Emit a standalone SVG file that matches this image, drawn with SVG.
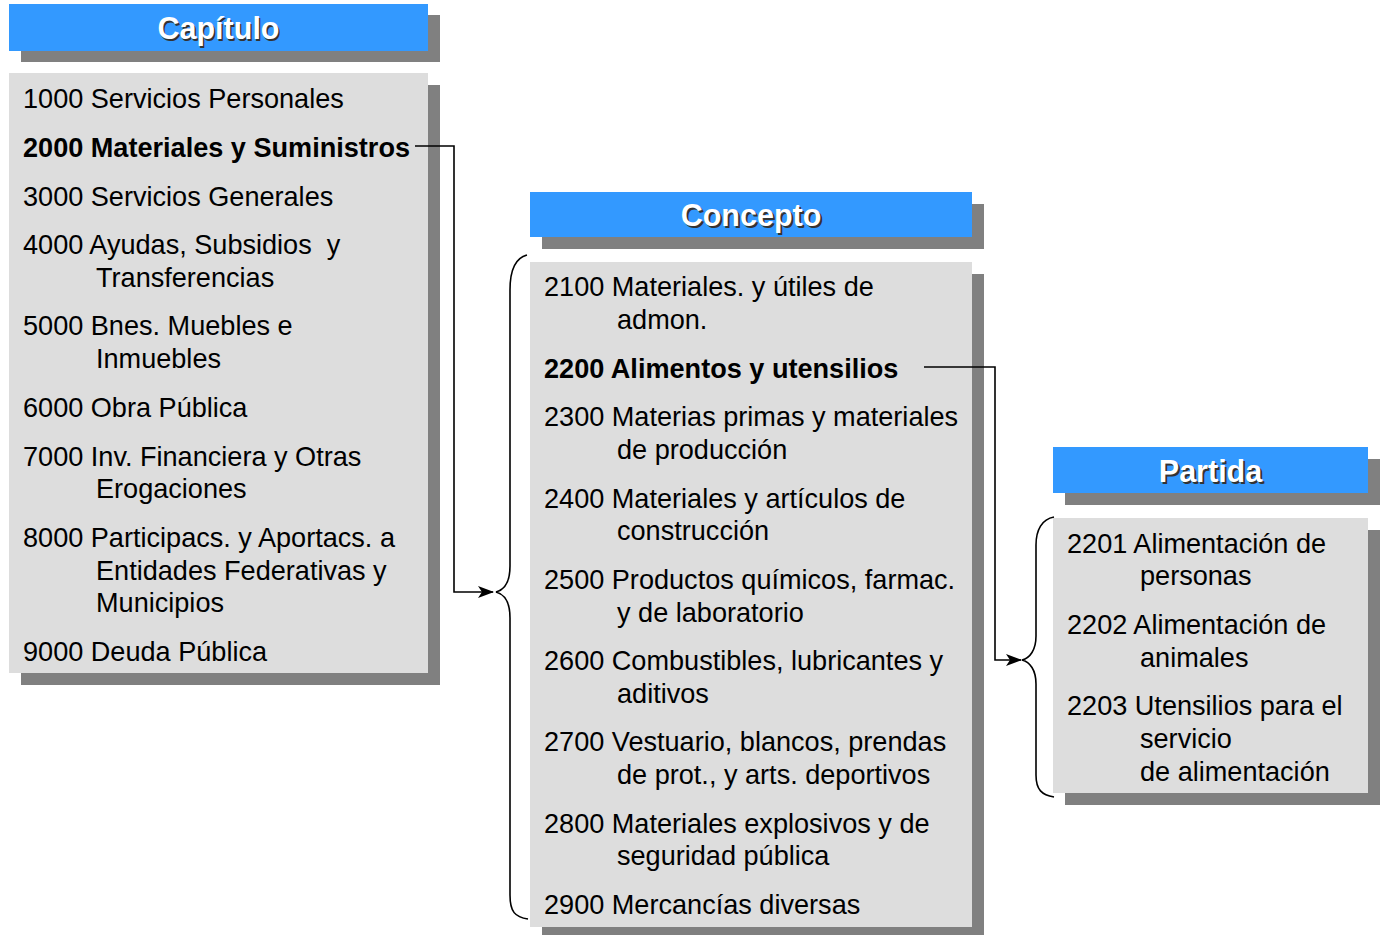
<svg xmlns="http://www.w3.org/2000/svg" width="1381" height="935" viewBox="0 0 1381 935">
<style>
.hdr{fill:#3399FF}
.sh{fill:#808080}
.box{fill:#DDDDDD}
.ht{font-family:"Liberation Sans",Arial,sans-serif;font-weight:bold;font-size:30.5px;text-anchor:middle}
.hts{fill:#333333}
.htw{fill:#FFFFFF}
.t{font-family:"Liberation Sans",Arial,sans-serif;font-size:27.1px;fill:#000}
.b{font-weight:bold}
.ln{fill:none;stroke:#000;stroke-width:1.6}
</style>
<defs>
<marker id="arr" markerWidth="16" markerHeight="12" refX="15" refY="6" orient="auto" markerUnits="userSpaceOnUse">
<path d="M0,0 L16,6 L0,12 L4,6 z" fill="#000"/>
</marker>
</defs>
<g id="capitulo-header">
<rect class="sh" x="21" y="15" width="419" height="47"/>
<rect class="hdr" x="9" y="4" width="419" height="47"/>
<text class="ht hts" x="220" y="40.5">Capítulo</text>
<text class="ht htw" x="218.5" y="39">Capítulo</text>
</g>
<g id="capitulo-list">
<rect class="sh" x="21" y="85" width="419" height="600"/>
<rect class="box" x="9" y="73" width="419" height="600"/>
<text class="t" x="23" y="108">1000 Servicios Personales</text>
<text class="t b" x="23" y="157">2000 Materiales y Suministros</text>
<text class="t" x="23" y="206">3000 Servicios Generales</text>
<text class="t" x="23" y="254" xml:space="preserve">4000 Ayudas, Subsidios  y</text>
<text class="t" x="96" y="287">Transferencias</text>
<text class="t" x="23" y="335">5000 Bnes. Muebles e</text>
<text class="t" x="96" y="368">Inmuebles</text>
<text class="t" x="23" y="417">6000 Obra Pública</text>
<text class="t" x="23" y="466">7000 Inv. Financiera y Otras</text>
<text class="t" x="96" y="498">Erogaciones</text>
<text class="t" x="23" y="547">8000 Participacs. y Aportacs. a</text>
<text class="t" x="96" y="580">Entidades Federativas y</text>
<text class="t" x="96" y="612">Municipios</text>
<text class="t" x="23" y="661">9000 Deuda Pública</text>
</g>
<g id="concepto-header">
<rect class="sh" x="542" y="204" width="442" height="45"/>
<rect class="hdr" x="530" y="192" width="442" height="45"/>
<text class="ht hts" x="753" y="227.5">Concepto</text>
<text class="ht htw" x="751" y="226">Concepto</text>
</g>
<g id="concepto-list">
<rect class="sh" x="542" y="274" width="442" height="665"/>
<rect class="box" x="530" y="262" width="442" height="665"/>
<text class="t" x="544" y="296">2100 Materiales. y útiles de</text>
<text class="t" x="617" y="329">admon.</text>
<text class="t b" x="544" y="378">2200 Alimentos y utensilios</text>
<text class="t" x="544" y="426">2300 Materias primas y materiales</text>
<text class="t" x="617" y="459">de producción</text>
<text class="t" x="544" y="508">2400 Materiales y artículos de</text>
<text class="t" x="617" y="540">construcción</text>
<text class="t" x="544" y="589">2500 Productos químicos, farmac.</text>
<text class="t" x="617" y="622">y de laboratorio</text>
<text class="t" x="544" y="670">2600 Combustibles, lubricantes y</text>
<text class="t" x="617" y="703">aditivos</text>
<text class="t" x="544" y="751">2700 Vestuario, blancos, prendas</text>
<text class="t" x="617" y="784">de prot., y arts. deportivos</text>
<text class="t" x="544" y="833">2800 Materiales explosivos y de</text>
<text class="t" x="617" y="865">seguridad pública</text>
<text class="t" x="544" y="914">2900 Mercancías diversas</text>
</g>
<g id="partida-header">
<rect class="sh" x="1065" y="459" width="315" height="46"/>
<rect class="hdr" x="1053" y="447" width="315" height="46"/>
<text class="ht hts" x="1212.5" y="483.5">Partida</text>
<text class="ht htw" x="1210.5" y="482">Partida</text>
</g>
<g id="partida-list">
<rect class="sh" x="1065" y="530" width="315" height="275"/>
<rect class="box" x="1053" y="518" width="315" height="275"/>
<text class="t" x="1067" y="553">2201 Alimentación de</text>
<text class="t" x="1140" y="585">personas</text>
<text class="t" x="1067" y="634">2202 Alimentación de</text>
<text class="t" x="1140" y="667">animales</text>
<text class="t" x="1067" y="715">2203 Utensilios para el</text>
<text class="t" x="1140" y="748">servicio</text>
<text class="t" x="1140" y="781">de alimentación</text>
</g>
<g id="connectors">
<path class="ln" d="M415 146 H454 V592 H493" marker-end="url(#arr)"/>
<path class="ln" d="M527 255 C515 258 510 272 510 290 L510 566 C510 583 504 590 496 592 C504 594 510 601 510 618 L510 895 C510 912 515 917 528 919"/>
<path class="ln" d="M924 367 H995 V660 H1021" marker-end="url(#arr)"/>
<path class="ln" d="M1054 517 C1042 519 1036 530 1036 545 L1036 636 C1036 650 1030 658 1022 660 C1030 662 1036 670 1036 684 L1036 775 C1036 790 1042 795 1054 797"/>
</g>
</svg>
